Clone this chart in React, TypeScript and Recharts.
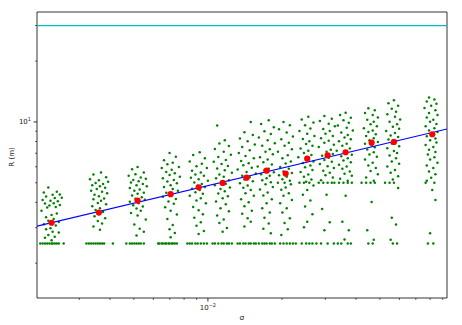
import { ReferenceArea, ReferenceLine, Scatter, ScatterChart, XAxis, YAxis } from "recharts";

// axis ranges (log-log)
const X_MIN = 0.00202;
const X_MAX = 0.0937;
const Y_MIN = 1.345;
const Y_MAX = 35;

const X_TICKS = [0.003, 0.004, 0.005, 0.006, 0.007, 0.008, 0.009, 0.01, 0.02, 0.03, 0.04, 0.05, 0.06, 0.07, 0.08, 0.09];
const Y_TICKS = [2, 3, 4, 5, 6, 7, 8, 9, 10, 20, 30];

// bin centres of sigma and the median R of each bin
const BIN_SIGMA = [0.002315, 0.003605, 0.005178, 0.007055, 0.00917, 0.01148, 0.01436, 0.01732, 0.0207, 0.02533, 0.03066, 0.03628, 0.04628, 0.05702, 0.08163];
const MEDIAN_R = [3.17, 3.56, 4.08, 4.39, 4.75, 4.99, 5.3, 5.74, 5.55, 6.58, 6.84, 7.08, 7.9, 7.96, 8.69];

// power-law fit, end points
const FIT_SIGMA = [0.00202, 0.0937];
const FIT_R = [3.05, 9.23];

const CEILING_R = 30;

// raw samples per bin: [sigma / bin centre, R]
const BIN_01 = [[0.97,4.74],[1.05,4.52],[0.93,4.47],[1.08,4.38],[1.01,4.36],[0.95,4.27],[1.1,4.22],[1.03,4.2],[0.92,4.11],[0.99,4.07],[1.06,4.05],[1.02,3.96],[0.94,3.95],[1.08,3.88],[0.98,3.86],[1.04,3.79],[0.96,3.77],[0.91,3.63],[1.05,3.52],[1.0,3.46],[0.95,3.38],[1.02,3.31],[0.97,3.24],[1.07,3.2],[0.93,3.12],[1.04,3.07],[0.99,2.98],[0.95,2.94],[1.01,2.86],[1.07,2.84],[0.97,2.76],[1.03,2.7],[0.94,2.67],[1.0,2.6],
  [0.9,2.5],[0.92,2.5],[0.94,2.5],[0.96,2.5],[0.98,2.5],[1.0,2.5],[1.01,2.5],[1.03,2.5],[1.05,2.5],[1.07,2.5],[1.12,2.5]];
const BIN_02 = [[1.02,5.62],[0.95,5.5],[1.07,5.33],[0.92,5.21],[1.0,5.14],[1.09,5.06],[0.97,4.99],[1.04,4.93],[0.94,4.86],[1.01,4.8],[1.06,4.72],[0.98,4.66],[0.93,4.57],[1.03,4.51],[1.08,4.44],[0.96,4.36],[1.0,4.29],[1.05,4.18],[0.95,4.14],[1.02,4.07],[0.99,3.97],[1.07,3.92],[0.94,3.83],[1.01,3.74],[0.97,3.67],[1.04,3.58],[1.0,3.5],[0.96,3.41],[1.06,3.34],[0.99,3.23],[1.03,3.14],[0.95,3.04],[1.01,2.93],
  [0.89,2.5],[0.91,2.5],[0.93,2.5],[0.95,2.5],[0.97,2.5],[0.99,2.5],[1.01,2.5],[1.03,2.5],[1.05,2.5],[1.14,2.5]];
const BIN_03 = [[1.0,5.98],[0.95,5.83],[1.06,5.62],[0.98,5.51],[0.92,5.42],[1.03,5.31],[1.08,5.24],[0.96,5.16],[1.01,5.09],[0.94,5.01],[1.05,4.93],[0.99,4.86],[1.09,4.8],[0.93,4.71],[1.02,4.63],[0.97,4.56],[1.06,4.46],[1.0,4.41],[0.95,4.33],[1.04,4.24],[0.98,4.17],[1.07,4.12],[0.93,4.03],[1.01,3.96],[0.96,3.87],[1.05,3.81],[0.99,3.73],[1.03,3.63],[0.94,3.54],[1.0,3.44],[1.08,3.29],[0.97,3.11],[1.02,2.96],[1.06,2.86],[0.99,2.74],
  [0.9,2.5],[0.93,2.5],[0.95,2.5],[0.97,2.5],[0.99,2.5],[1.01,2.5],[1.03,2.5],[1.06,2.5]];
const BIN_04 = [[0.99,7.02],[1.05,6.73],[0.94,6.46],[1.02,6.28],[0.97,6.17],[1.08,5.99],[0.92,5.91],[1.01,5.8],[0.96,5.66],[1.04,5.57],[0.99,5.47],[1.09,5.36],[0.93,5.27],[1.03,5.16],[0.97,5.07],[1.06,4.97],[1.0,4.86],[0.94,4.77],[1.02,4.66],[1.07,4.57],[0.96,4.46],[1.01,4.37],[0.93,4.26],[1.05,4.16],[0.98,4.04],[1.03,3.94],[0.95,3.78],[1.0,3.63],[1.06,3.48],[0.97,3.31],[1.02,3.09],[0.99,2.94],[1.04,2.82],[1.0,2.69],
  [0.89,2.5],[0.9,2.5],[0.92,2.5],[0.93,2.5],[0.95,2.5],[0.96,2.5],[0.98,2.5],[0.99,2.5],[1.01,2.5],[1.02,2.5],[1.04,2.5],[1.06,2.5]];
const BIN_05 = [[1.01,7.08],[0.95,6.86],[1.06,6.62],[0.92,6.38],[1.03,6.21],[0.98,6.04],[1.08,5.92],[0.94,5.74],[1.02,5.62],[0.97,5.49],[1.05,5.42],[0.93,5.29],[1.0,5.21],[1.09,5.11],[0.96,5.01],[1.03,4.93],[0.99,4.83],[1.06,4.77],[0.94,4.67],[1.01,4.6],[0.97,4.49],[1.04,4.41],[0.92,4.31],[1.02,4.19],[0.98,4.09],[1.07,3.96],[0.95,3.79],[1.0,3.66],[1.04,3.49],[0.96,3.36],[1.02,3.19],[0.98,3.06],[1.05,2.89],[1.0,2.79],
  [0.9,2.5],[0.92,2.5],[0.94,2.5],[0.97,2.5],[0.99,2.5],[1.02,2.5],[1.05,2.5],[1.08,2.5]];
const BIN_06 = [[0.95,9.6],[1.02,8.12],[0.97,7.83],[1.06,7.61],[0.93,7.34],[1.01,7.12],[1.08,6.88],[0.96,6.71],[1.03,6.48],[0.92,6.36],[0.99,6.19],[1.05,6.06],[0.95,5.88],[1.02,5.77],[1.09,5.61],[0.97,5.49],[1.01,5.35],[0.94,5.26],[1.06,5.14],[0.99,5.05],[1.03,4.94],[0.93,4.86],[1.07,4.74],[0.98,4.66],[1.02,4.54],[0.96,4.43],[1.05,4.29],[1.0,4.19],[0.94,4.04],[1.03,3.91],[0.98,3.74],[1.06,3.61],[0.95,3.44],[1.01,3.29],[0.97,3.16],[1.04,2.99],[1.0,2.86],
  [0.91,2.5],[0.93,2.5],[0.96,2.5],[0.99,2.5],[1.01,2.5],[1.04,2.5],[1.06,2.5],[1.09,2.5]];
const BIN_07 = [[1.04,10.0],[0.98,8.88],[1.06,8.61],[0.94,8.29],[1.01,8.02],[1.08,7.74],[0.96,7.52],[1.03,7.24],[0.93,7.01],[0.99,6.79],[1.07,6.62],[0.95,6.41],[1.02,6.24],[0.97,6.11],[1.05,5.94],[0.92,5.81],[1.0,5.66],[1.09,5.56],[0.96,5.42],[1.03,5.33],[0.98,5.19],[1.06,5.09],[0.94,4.97],[1.01,4.84],[0.97,4.73],[1.04,4.61],[0.99,4.44],[1.07,4.31],[0.95,4.14],[1.02,4.01],[0.98,3.83],[1.05,3.64],[0.96,3.51],[1.01,3.34],[1.04,3.21],[0.98,3.04],
  [0.92,2.5],[0.94,2.5],[0.97,2.5],[0.99,2.5],[1.02,2.5],[1.04,2.5],[1.07,2.5],[1.09,2.5]];
const BIN_08 = [[1.02,10.2],[0.95,9.78],[1.07,9.42],[0.98,8.99],[1.04,8.71],[0.93,8.38],[1.01,8.12],[1.08,7.84],[0.96,7.62],[1.03,7.33],[0.99,7.11],[1.06,6.92],[0.94,6.68],[1.01,6.52],[0.97,6.31],[1.05,6.16],[0.92,6.01],[1.02,5.87],[0.98,5.77],[1.07,5.63],[0.95,5.51],[1.03,5.41],[1.0,5.27],[0.96,5.14],[1.04,5.03],[0.99,4.91],[1.06,4.77],[0.94,4.63],[1.01,4.47],[0.97,4.33],[1.05,4.14],[1.0,3.96],[0.96,3.74],[1.03,3.56],[0.98,3.36],[1.02,3.14],[0.97,2.96],[1.04,2.81],
  [0.93,2.5],[0.96,2.5],[0.98,2.5],[1.0,2.5],[1.03,2.5],[1.05,2.5],[1.08,2.5]];
const BIN_09 = [[0.98,9.98],[1.04,9.62],[0.94,9.19],[1.01,8.86],[1.07,8.48],[0.96,8.21],[1.03,7.88],[0.99,7.62],[1.06,7.33],[0.93,7.12],[1.02,6.84],[0.97,6.61],[1.05,6.38],[1.0,6.22],[0.95,5.98],[1.03,5.86],[0.98,5.69],[1.06,5.59],[0.94,5.44],[1.01,5.36],[0.97,5.21],[1.04,5.11],[0.93,5.0],[0.99,5.0],[1.05,4.91],[1.0,4.74],[0.96,4.62],[1.03,4.44],[0.98,4.31],[1.06,4.11],[0.95,3.96],[1.01,3.74],[0.97,3.56],[1.04,3.34],[0.99,3.16],[1.02,2.94],[0.96,2.76],
  [0.95,2.5],[0.98,2.5],[1.01,2.5],[1.04,2.5],[1.07,2.5],[1.1,2.5]];
const BIN_10 = [[1.01,10.6],[0.95,10.28],[1.06,9.94],[0.98,9.62],[1.03,9.28],[0.93,9.02],[1.0,8.74],[1.07,8.52],[0.96,8.23],[1.02,8.02],[0.99,7.78],[1.05,7.62],[0.94,7.38],[1.01,7.21],[0.97,7.01],[1.04,6.86],[0.92,6.69],[1.0,6.56],[1.06,6.38],[0.96,6.27],[1.03,6.08],[0.98,5.96],[1.05,5.78],[0.94,5.66],[1.01,5.49],[0.97,5.36],[1.04,5.19],[0.99,5.06],[0.93,5.0],[0.97,5.0],[1.02,5.0],[1.06,4.84],[1.0,4.61],[0.96,4.36],[1.03,4.08],[0.98,3.81],[1.05,3.49],[1.0,3.21],[0.97,3.01],
  [0.95,2.5],[0.99,2.5],[1.02,2.5],[1.05,2.5],[1.09,2.5]];
const BIN_11 = [[0.97,10.7],[1.04,10.38],[0.93,10.12],[1.01,9.79],[1.07,9.52],[0.96,9.24],[1.02,9.01],[0.98,8.74],[1.05,8.52],[0.94,8.31],[1.01,8.08],[0.97,7.88],[1.06,7.71],[0.92,7.52],[1.03,7.28],[0.99,7.12],[1.05,6.94],[0.95,6.81],[1.01,6.64],[0.97,6.48],[1.04,6.36],[0.93,6.19],[1.0,6.04],[1.06,5.92],[0.96,5.74],[1.02,5.61],[0.98,5.44],[1.05,5.31],[0.94,5.14],[0.92,5.0],[0.96,5.0],[1.0,5.0],[1.04,5.0],[0.99,4.36],[0.95,3.71],[1.02,3.19],[0.97,2.91],
  [0.94,2.5],[1.0,2.5],[1.06,2.5],[1.1,2.5]];
const BIN_12 = [[1.0,11.1],[0.95,10.81],[1.05,10.48],[0.98,10.19],[1.03,9.92],[0.93,9.61],[1.01,9.36],[1.07,9.08],[0.96,8.86],[1.02,8.61],[0.99,8.38],[1.05,8.21],[0.94,8.02],[1.01,7.81],[0.97,7.62],[1.04,7.38],[0.92,7.21],[1.0,7.04],[1.06,6.88],[0.96,6.76],[1.02,6.61],[0.98,6.44],[1.05,6.31],[0.94,6.14],[1.01,6.01],[0.97,5.86],[1.04,5.69],[0.99,5.54],[1.06,5.41],[0.95,5.24],[1.02,5.12],[0.9,5.0],[0.94,5.0],[0.98,5.0],[1.02,5.0],[1.06,5.0],[1.0,4.31],[0.97,3.21],[1.03,2.91],[0.99,2.62],
  [0.96,2.5],[1.02,2.5],[1.05,2.5]];
const BIN_13 = [[0.97,11.7],[1.03,11.42],[0.94,11.08],[1.01,10.81],[1.06,10.52],[0.96,10.24],[1.02,10.01],[0.99,9.74],[1.05,9.52],[0.93,9.31],[1.01,9.08],[0.97,8.91],[1.04,8.68],[0.95,8.51],[1.02,8.31],[0.98,8.12],[1.06,7.96],[0.94,7.81],[1.0,7.64],[1.03,7.49],[0.96,7.31],[1.02,7.08],[0.98,6.91],[1.05,6.72],[0.94,6.51],[1.01,6.28],[0.97,6.09],[1.04,5.91],[0.99,5.72],[1.06,5.51],[0.95,5.31],[1.02,5.12],[0.91,5.0],[0.95,5.0],[0.99,5.0],[1.03,5.0],[1.0,4.02],[0.96,2.91],[1.02,2.61],
  [0.97,2.5],[1.01,2.5]];
const BIN_14 = [[1.0,12.8],[0.95,12.38],[1.04,12.02],[0.98,11.61],[1.02,11.24],[0.94,10.92],[1.01,10.61],[1.06,10.28],[0.96,10.02],[1.03,9.74],[0.99,9.48],[1.05,9.26],[0.93,9.01],[1.01,8.81],[0.97,8.58],[1.04,8.42],[0.95,8.19],[1.02,8.01],[0.98,7.82],[1.05,7.58],[0.94,7.41],[1.0,7.19],[1.03,7.01],[0.96,6.82],[1.02,6.61],[0.98,6.38],[1.05,6.21],[0.94,6.02],[1.01,5.79],[0.97,5.61],[1.04,5.38],[0.99,5.19],[0.92,5.0],[0.96,5.0],[1.0,5.0],[1.04,4.71],[0.98,3.36],[1.02,3.11],[0.97,2.61],
  [0.99,2.5],[1.03,2.5]];
const BIN_15 = [[0.97,13.2],[1.02,12.91],[0.95,12.62],[1.04,12.31],[0.99,12.02],[0.93,11.71],[1.03,11.42],[0.97,11.08],[1.05,10.81],[0.95,10.52],[1.01,10.24],[0.98,10.01],[1.04,9.76],[0.94,9.52],[1.02,9.31],[0.97,9.08],[1.05,8.91],[0.99,8.71],[0.95,8.49],[1.03,8.28],[0.98,8.11],[1.04,7.91],[0.94,7.68],[1.01,7.51],[0.97,7.29],[1.03,7.09],[0.96,6.91],[1.02,6.68],[0.98,6.51],[1.05,6.29],[0.95,6.09],[1.01,5.91],[0.97,5.69],[1.03,5.51],[0.99,5.29],[0.95,5.11],[0.94,5.0],[1.02,5.0],[1.0,4.61],[1.03,4.11],[0.98,2.81],
  [0.96,2.5],[1.01,2.5]];

const BINS = [BIN_01, BIN_02, BIN_03, BIN_04, BIN_05, BIN_06, BIN_07, BIN_08, BIN_09, BIN_10, BIN_11, BIN_12, BIN_13, BIN_14, BIN_15];

const samples = BINS.flatMap((bin, i) =>
  bin.map(([f, r]) => ({ sigma: BIN_SIGMA[i] * f, r }))
);
const medians = BIN_SIGMA.map((sigma, i) => ({ sigma, r: MEDIAN_R[i] }));
const fit = FIT_SIGMA.map((sigma, i) => ({ sigma, r: FIT_R[i] }));

const FONT = "DejaVu Sans, sans-serif";

const XTick = (props: any) => {
  const { x, y, payload } = props;
  const major = payload.value === 0.01;
  return (
    <g>
      <line x1={x} x2={x} y1={y} y2={y + (major ? 3.5 : 2)} stroke="#000" strokeWidth={major ? 0.8 : 0.6} />
      {major && (
        <text x={x} y={y + 12} textAnchor="middle" fontSize={7} fontFamily={FONT} fill="#222">
          10<tspan dy={-3} fontSize={5}>−2</tspan>
        </text>
      )}
    </g>
  );
};

const YTick = (props: any) => {
  const { x, y, payload } = props;
  const major = payload.value === 10;
  return (
    <g>
      <line x1={x - (major ? 3.5 : 2)} x2={x} y1={y} y2={y} stroke="#000" strokeWidth={major ? 0.8 : 0.6} />
      {major && (
        <text x={x - 6} y={y + 2.5} textAnchor="end" fontSize={7} fontFamily={FONT} fill="#222">
          10<tspan dy={-3} fontSize={5}>1</tspan>
        </text>
      )}
    </g>
  );
};

const greenDot = (p: any) => <circle cx={p.cx} cy={p.cy} r={1.25} fill="#008000" />;
const redDot = (p: any) => <circle cx={p.cx} cy={p.cy} r={3.1} fill="#ff0000" />;
const noDot = () => <g />;

export default function App() {
  return (
    <div style={{ position: "absolute", left: 0, top: 0, width: 462, height: 325, background: "#fff" }}>
      <ScatterChart width={462} height={325} margin={{ top: 12, right: 15, bottom: 0, left: 0 }}>
        <XAxis
          dataKey="sigma"
          type="number"
          scale="log"
          domain={[X_MIN, X_MAX]}
          allowDataOverflow
          ticks={X_TICKS}
          interval={0}
          tick={<XTick />}
          tickLine={false}
          axisLine={false}
          tickSize={0}
          tickMargin={0}
          height={27}
        />
        <YAxis
          dataKey="r"
          type="number"
          scale="log"
          domain={[Y_MIN, Y_MAX]}
          allowDataOverflow
          ticks={Y_TICKS}
          interval={0}
          tick={<YTick />}
          tickLine={false}
          axisLine={false}
          tickSize={0}
          tickMargin={0}
          width={37}
        />
        <Scatter data={samples} shape={greenDot} isAnimationActive={false} />
        <Scatter data={fit} line={{ stroke: "#0000ff", strokeWidth: 1.2 }} shape={noDot} isAnimationActive={false} />
        <Scatter data={medians} shape={redDot} isAnimationActive={false} />
        <ReferenceLine y={CEILING_R} stroke="#00bfbf" strokeOpacity={1} strokeWidth={1.2} ifOverflow="visible" />
        <ReferenceArea x1={X_MIN} x2={X_MAX} y1={Y_MIN} y2={Y_MAX} fill="none" fillOpacity={0} stroke="#000" strokeWidth={0.8} />
      </ScatterChart>
      <svg width={462} height={325} style={{ position: "absolute", left: 0, top: 0, pointerEvents: "none" }}>
        <text x={12} y={157} transform="rotate(-90 12 157)" textAnchor="middle" dominantBaseline="middle" fontSize={7} fontFamily={FONT} fill="#222">
          R (m)
        </text>
        <text x={242} y={320} textAnchor="middle" fontSize={7.5} fontFamily={FONT} fill="#222">
          σ
        </text>
      </svg>
    </div>
  );
}
